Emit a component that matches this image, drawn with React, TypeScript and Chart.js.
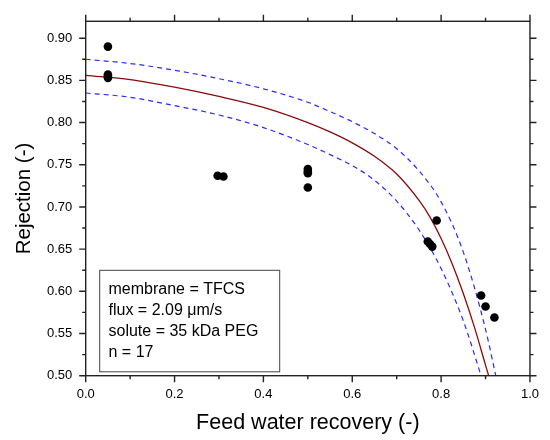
import React, { useEffect, useRef } from "react";
import { Chart, registerables } from "chart.js";

Chart.register(...registerables);

// Measured data
const pointX = [0.05, 0.05, 0.05, 0.05, 0.297, 0.31, 0.5, 0.5, 0.5, 0.5, 0.77, 0.775, 0.78, 0.79, 0.89, 0.9, 0.92];
const pointY = [0.890, 0.857, 0.855, 0.853, 0.737, 0.736, 0.745, 0.742, 0.740, 0.723, 0.659, 0.656, 0.653, 0.684, 0.595, 0.582, 0.569];

// Model fit curve
const fitX = [0, 0.1, 0.2, 0.3, 0.4, 0.5, 0.55, 0.6, 0.65, 0.7, 0.75, 0.775, 0.8, 0.825, 0.85, 0.875, 0.9, 0.907];
const fitY = [0.856, 0.851, 0.842, 0.831, 0.818, 0.8, 0.789, 0.776, 0.76, 0.739, 0.708, 0.688, 0.6625, 0.6325, 0.5975, 0.5575, 0.5125, 0.5];

// Upper confidence band
const upperX = [0, 0.1, 0.2, 0.3, 0.4, 0.5, 0.55, 0.6, 0.65, 0.7, 0.75, 0.8, 0.85, 0.9, 0.923];
const upperY = [0.875, 0.87, 0.862, 0.852, 0.84, 0.824, 0.813, 0.801, 0.787, 0.769, 0.743, 0.706, 0.6465, 0.555, 0.5];

// Lower confidence band
const lowerX = [0, 0.1, 0.2, 0.3, 0.4, 0.5, 0.55, 0.6, 0.65, 0.7, 0.75, 0.8, 0.85, 0.89];
const lowerY = [0.835, 0.83, 0.82, 0.809, 0.794, 0.774, 0.762, 0.749, 0.7315, 0.707, 0.673, 0.627, 0.565, 0.5];

// Axis ticks
const xMajorTicks = [0, 0.2, 0.4, 0.6, 0.8, 1.0];
const xMinorTicks = [0.1, 0.3, 0.5, 0.7, 0.9];
const yMajorTicks = [0.5, 0.55, 0.6, 0.65, 0.7, 0.75, 0.8, 0.85, 0.9];
const yMinorTicks = [0.525, 0.575, 0.625, 0.675, 0.725, 0.775, 0.825, 0.875];

const infoLines = ["membrane = TFCS", "flux = 2.09 \u03bcm/s", "solute = 35 kDa PEG", "n = 17"];

const FONT = "'Liberation Sans', Arial, Helvetica, sans-serif";

const zip = (xs: number[], ys: number[]) => xs.map((x, i) => ({ x, y: ys[i] }));

const framePlugin = {
  id: "frameTicks",
  afterDraw(chart: any) {
    const { ctx, chartArea, scales } = chart;
    const { left, right, top, bottom } = chartArea;
    const xs = scales.x;
    const ys = scales.y;
    ctx.save();
    ctx.strokeStyle = "#222";
    ctx.lineWidth = 1.4;
    ctx.strokeRect(left, top, right - left, bottom - top);
    const major = 6.5;
    const minor = 3.5;
    ctx.beginPath();
    const xt = (v: number, len: number) => {
      const px = xs.getPixelForValue(v);
      ctx.moveTo(px, bottom);
      ctx.lineTo(px, bottom + len);
      ctx.moveTo(px, top);
      ctx.lineTo(px, top - len);
    };
    const yt = (v: number, len: number) => {
      const py = ys.getPixelForValue(v);
      ctx.moveTo(left, py);
      ctx.lineTo(left - len, py);
      ctx.moveTo(right, py);
      ctx.lineTo(right + len, py);
    };
    xMajorTicks.forEach((v) => xt(v, major));
    xMinorTicks.forEach((v) => xt(v, minor));
    yMajorTicks.forEach((v) => yt(v, major));
    yMinorTicks.forEach((v) => yt(v, minor));
    ctx.stroke();

    // info box
    const bx = left + 13.5;
    const by = top + 248.5;
    const bw = 180;
    const bh = 101.5;
    ctx.fillStyle = "#fff";
    ctx.fillRect(bx, by, bw, bh);
    ctx.strokeStyle = "#444";
    ctx.lineWidth = 1;
    ctx.strokeRect(bx + 0.5, by + 0.5, bw, bh);
    ctx.fillStyle = "#000";
    ctx.font = `16px ${FONT}`;
    ctx.textAlign = "left";
    ctx.textBaseline = "alphabetic";
    infoLines.forEach((t, i) => {
      ctx.fillText(t, bx + 9.3, by + 24.4 + i * 21);
    });
    ctx.restore();
  },
};

export default function App() {
  const ref = useRef<HTMLCanvasElement>(null);
  useEffect(() => {
    if (!ref.current) return;
    const chart = new Chart(ref.current, {
      type: "scatter",
      data: {
        datasets: [
          {
            label: "data",
            data: zip(pointX, pointY),
            backgroundColor: "#000",
            borderColor: "#000",
            pointRadius: 4.3,
            pointBorderWidth: 0,
            showLine: false,
          },
          {
            label: "fit",
            data: zip(fitX, fitY),
            borderColor: "#8b0a0a",
            borderWidth: 1.3,
            pointRadius: 0,
            showLine: true,
            cubicInterpolationMode: "monotone",
          },
          {
            label: "upper",
            data: zip(upperX, upperY),
            borderColor: "#2b2bff",
            borderWidth: 1.2,
            borderDash: [5, 4],
            pointRadius: 0,
            showLine: true,
            cubicInterpolationMode: "monotone",
          },
          {
            label: "lower",
            data: zip(lowerX, lowerY),
            borderColor: "#2b2bff",
            borderWidth: 1.2,
            borderDash: [5, 4],
            pointRadius: 0,
            showLine: true,
            cubicInterpolationMode: "monotone",
          },
        ],
      },
      options: {
        responsive: false,
        animation: false,
        devicePixelRatio: 1,
        layout: { padding: { left: 0, top: 14, right: 17.5, bottom: 0 } },
        plugins: { legend: { display: false }, tooltip: { enabled: false } },
        scales: {
          x: {
            type: "linear",
            min: 0,
            max: 1,
            grid: { display: false, drawTicks: false },
            border: { display: false },
            afterBuildTicks: (s: any) => {
              s.ticks = xMajorTicks.map((v) => ({ value: v }));
            },
            afterFit: (s: any) => {
              s.height = 64.3;
            },
            ticks: {
              padding: 11,
              color: "#000",
              font: { family: FONT, size: 13 },
              maxRotation: 0,
              callback: (v: any) => Number(v).toFixed(1),
            },
            title: {
              display: true,
              text: "Feed water recovery (-)",
              color: "#000",
              font: { family: FONT, size: 21.5 },
              padding: { top: 0, bottom: 4 },
            },
          },
          y: {
            type: "linear",
            min: 0.5,
            max: 0.92,
            grid: { display: false, drawTicks: false },
            border: { display: false },
            afterBuildTicks: (s: any) => {
              s.ticks = yMajorTicks.map((v) => ({ value: v }));
            },
            afterFit: (s: any) => {
              s.width = 85.7;
            },
            ticks: {
              padding: 13.5,
              color: "#000",
              font: { family: FONT, size: 13 },
              callback: (v: any) => Number(v).toFixed(2),
            },
            title: {
              display: true,
              text: "Rejection (-)",
              color: "#000",
              font: { family: FONT, size: 20.5 },
              padding: { top: 12.2, bottom: 0 },
            },
          },
        },
      },
      plugins: [framePlugin],
    } as any);
    return () => chart.destroy();
  }, []);
  return (
    <div style={{ position: "fixed", left: 0, top: 0, width: 550, height: 440, background: "#fff" }}>
      <canvas ref={ref} width={550} height={440} style={{ display: "block" }} />
    </div>
  );
}
